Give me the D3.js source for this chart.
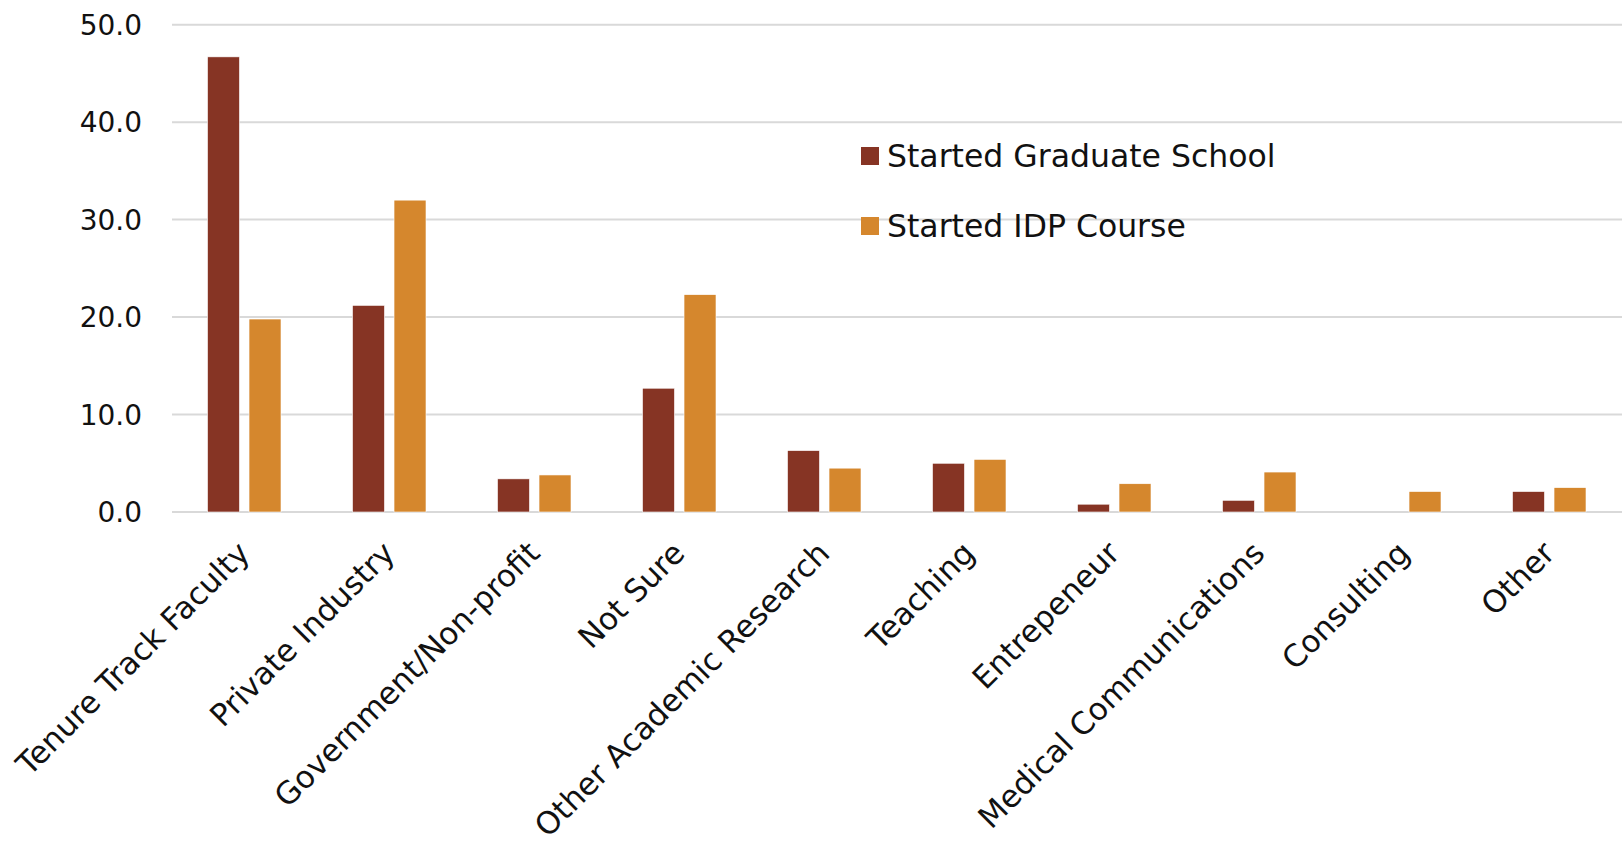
<!DOCTYPE html>
<html>
<head>
<meta charset="utf-8">
<script src="https://cdn.jsdelivr.net/npm/d3@7"></script>
<style>
  html, body { margin: 0; padding: 0; background: #fff; }
  svg { display: block; font-family: 'Century Gothic', 'DejaVu Sans', sans-serif; }
</style>
</head>
<body>
<svg id="chart" width="1622" height="845"></svg>
<script>
// chart data
const categories = [
  'Tenure Track Faculty', 'Private Industry', 'Government/Non-profit', 'Not Sure',
  'Other Academic Research', 'Teaching', 'Entrepeneur', 'Medical Communications',
  'Consulting', 'Other'
]
const seriesNames = ['Started Graduate School', 'Started IDP Course']
const gradSchool = [46.7, 21.2, 3.4, 12.7, 6.3, 5.0, 0.8, 1.2, 0, 2.1]
const idpCourse = [19.8, 32.0, 3.8, 22.3, 4.5, 5.4, 2.9, 4.1, 2.1, 2.5]
const yTicks = [0, 10, 20, 30, 40, 50]

const colors = ['#863424', '#D5872D']
const series = [gradSchool, idpCourse]

let svg = d3.select('#chart')
const plotLeft = 172, plotRight = 1622, plotTop = 24.7, plotBottom = 512

const x = d3.scaleBand().domain(categories).range([plotLeft, plotRight]).padding(0)
// two bars inside each category band
const xInner = d3.scaleBand().domain([0, 1]).range([35.5, 109]).paddingInner(0.23)
const y = d3.scaleLinear().domain([0, 50]).range([plotBottom, plotTop])

// gridlines
svg.append('g')
  .selectAll('line')
  .data(yTicks)
  .enter()
  .append('line')
  .attr('x1', plotLeft)
  .attr('x2', plotRight)
  .attr('y1', (d) => y(d))
  .attr('y2', (d) => y(d))
  .attr('stroke', '#d9d9d9')
  .attr('stroke-width', 2)

// y tick labels
svg.append('g')
  .selectAll('text')
  .data(yTicks)
  .enter()
  .append('text')
  .attr('x', 142)
  .attr('y', (d) => y(d))
  .attr('dy', '0.36em')
  .attr('text-anchor', 'end')
  .attr('font-size', '28px')
  .attr('fill', '#111')
  .text((d) => d3.format('.1f')(d))

// bars
series.forEach((values, s) => {
  svg.append('g')
    .selectAll('rect')
    .data(values)
    .enter()
    .append('rect')
    .attr('x', (d, i) => x(categories[i]) + xInner(s))
    .attr('width', xInner.bandwidth())
    .attr('y', (d) => y(d))
    .attr('height', (d) => plotBottom - y(d))
    .attr('fill', colors[s])
    .attr('stroke', '#fff')
    .attr('stroke-width', 0.6)
})

// rotated category labels
svg.append('g')
  .selectAll('text')
  .data(categories)
  .enter()
  .append('text')
  .attr('transform', (d) => `translate(${x(d) + x.bandwidth() / 2 + 7},${plotBottom + 43}) rotate(-45)`)
  .attr('text-anchor', 'end')
  .attr('font-size', '31px')
  .attr('fill', '#111')
  .text((d) => d)

// legend
const legend = svg.append('g')
  .selectAll('g')
  .data(seriesNames)
  .enter()
  .append('g')
  .attr('transform', (d, i) => `translate(861,${156 + i * 70})`)
legend.append('rect')
  .attr('x', 0)
  .attr('y', -9)
  .attr('width', 18)
  .attr('height', 18)
  .attr('fill', (d, i) => colors[i])
legend.append('text')
  .attr('x', 26)
  .attr('dy', '0.36em')
  .attr('font-size', '31.5px')
  .attr('fill', '#111')
  .text((d) => d)
</script>
</body>
</html>
